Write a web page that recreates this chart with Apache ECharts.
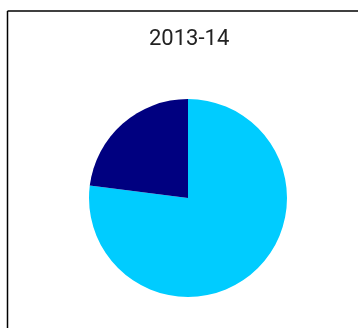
<!DOCTYPE html>
<html><head><meta charset="utf-8">
<script src="https://cdn.jsdelivr.net/npm/echarts@6/dist/echarts.min.js"></script>
<style>html,body{margin:0;padding:0;background:#fff;}#c{width:358px;height:328px;}</style>
</head><body><div id="c"></div>
<script>
var title = "2013-14";
var categories = ["A", "B"];
var values = [77, 23];
var colors = ["#00CCFF", "#000080"];
var chart = echarts.init(document.getElementById('c'), null, {renderer: 'canvas'});
chart.setOption({
  animation: false,
  title: {text: title, left: 144, top: 23, padding: 5,
    textStyle: {fontFamily: 'Roboto', fontSize: 22, fontWeight: 'normal', color: '#222'}},
  graphic: [
    {type: 'line', shape: {x1: 7.5, y1: 11, x2: 358, y2: 11}, style: {stroke: '#000', lineWidth: 1.5}},
    {type: 'line', shape: {x1: 7.5, y1: 11, x2: 7.5, y2: 328}, style: {stroke: '#000', lineWidth: 1.5}}
  ],
  series: [{
    type: 'pie', center: [188, 198], radius: 99, startAngle: 90, clockwise: true,
    label: {show: false}, labelLine: {show: false}, silent: true,
    itemStyle: {borderWidth: 0},
    data: categories.map(function(c, i){ return {name: c, value: values[i], itemStyle: {color: colors[i]}}; })
  }]
});
</script></body></html>
